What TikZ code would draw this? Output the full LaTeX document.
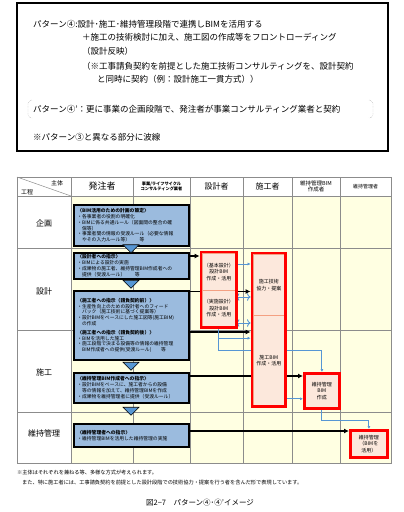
\documentclass[tikz,border=0pt]{standalone}
\usepackage{fontspec}
\setmainfont{Noto Sans CJK JP}
\usetikzlibrary{arrows.meta,shapes.arrows,fit,backgrounds}

\definecolor{cellyellow}{RGB}{255,255,226}
\definecolor{boxblue}{RGB}{155,187,222}
\definecolor{boxpink}{RGB}{252,232,220}
\definecolor{sepsalmon}{RGB}{244,160,130}
\definecolor{linkblue}{RGB}{86,150,212}
\definecolor{gridgray}{RGB}{140,140,140}

\tikzset{
  note/.style={anchor=west,inner sep=0pt,font=\fontsize{8.5}{10}\selectfont},
  head/.style={align=center,inner sep=0pt},
  stage/.style={inner sep=0pt,font=\fontsize{8}{9}\selectfont},
  order/.style={draw=black,line width=1.6pt,fill=boxblue,anchor=north west,
    minimum width=115pt,text width=108pt,align=left,inner xsep=3.5pt,inner ysep=1pt,
    font=\fontsize{4.8}{5.8}\selectfont},
  task/.style={draw=sepsalmon,line width=0.8pt,fill=boxpink,anchor=north west,
    align=center,inner sep=0pt,font=\fontsize{5}{6.5}\selectfont},
  redbox/.style={task,draw=red,line width=2.8pt},
  redframe/.style={draw=red,line width=2.8pt,inner sep=1pt},
  downarrow/.style={single arrow,shape border rotate=270,draw=black,line width=0.6pt,
    fill=linkblue,minimum height=8pt,minimum width=16pt,single arrow head extend=4pt,
    inner sep=0pt},
  instr/.style={line width=1.4pt,-{Latex[length=5pt,width=5pt]}},
  info/.style={linkblue,line width=0.9pt,-{Latex[length=3pt,width=3pt]}}
}

\begin{document}
\begin{tikzpicture}[x=1pt,y=-1pt]
  \useasboundingbox (0,0) rectangle (404,512);

  % pattern text
  \draw[line width=1.3pt] (17,3) rectangle (388,151);
  \node[note] (pat4) at (33,24) {パターン④:設計･施工･維持管理段階で連携しBIMを活用する};
  \node[note] (pat4a) at (82,37) {＋施工の技術検討に加え、施工図の作成等をフロントローディング};
  \node[note] (pat4b) at (82,51) {（設計反映）};
  \node[note] (pat4c) at (82,66) {（※工事請負契約を前提とした施工技術コンサルティングを、設計契約};
  \node[note] (pat4d) at (97,79) {と同時に契約（例：設計施工一貫方式））};
  \node[note] (pat4dash) at (33,109) {パターン④’：更に事業の企画段階で、発注者が事業コンサルティング業者と契約};
  \node[note] (wave) at (33,137) {※パターン③と異なる部分に波線};
  \draw[gridgray,densely dotted,rounded corners=2pt] (32,100) -- (28,101) -- (28,117) -- (32,118);
  \draw[gridgray,densely dotted,rounded corners=2pt] (369,100) -- (373,101) -- (373,117) -- (369,118);

  % table
  \begin{scope}[on background layer]
    \fill[cellyellow] (71,196) rectangle (391,463);
    \draw[gridgray,line width=0.5pt] (17,177) rectangle (391,463);
    \foreach \x in {71,133,190,243,292,340}
      \draw[gridgray,line width=0.5pt] (\x,177) -- (\x,463);
    \foreach \y in {196,248,330,412}
      \draw[gridgray,line width=0.5pt] (17,\y) -- (391,\y);
    \draw[gridgray,line width=0.5pt] (17,177) -- (71,196);
  \end{scope}

  \node[head,font=\fontsize{6}{7}\selectfont] (hSubject) at (57,183) {主体};
  \node[head,font=\fontsize{6}{7}\selectfont] (hStage) at (27,192) {工程};
  \node[head,font=\fontsize{9}{10}\selectfont] (hOwner) at (102,186.5) {発注者};
  \node[head,font=\fontsize{4.2}{5.2}\selectfont\bfseries] (hConsult) at (161.5,186.5) {事業/ライフサイクル\\コンサルティング業者};
  \node[head,font=\fontsize{8}{9}\selectfont] (hDesigner) at (216.5,186.5) {設計者};
  \node[head,font=\fontsize{8}{9}\selectfont] (hBuilder) at (267.5,186.5) {施工者};
  \node[head,font=\fontsize{5.5}{5.5}\selectfont] (hBimMaker) at (316,186.5) {維持管理BIM\\作成者};
  \node[head,font=\fontsize{5}{6}\selectfont] (hManager) at (365.5,186.5) {維持管理者};

  \node[stage] (rPlan) at (44,223) {企画};
  \node[stage] (rDesign) at (44,291) {設計};
  \node[stage] (rBuild) at (44,372) {施工};
  \node[stage] (rMaintain) at (44,433) {維持管理};

  % owner instructions
  \node[order,minimum height=41pt] (plan) at (73,204) {{\bfseries 〈BIM活用のための計画の策定〉}\\
    ・各事業者の役割の明確化\\
    ・BIMに係る共通ルール（図面間の整合の確\\
    　保等）\\
    ・事業者間の情報の受渡ルール（必要な情報\\
    　やその入力ルール等）　　等};
  \node[order,minimum height=26pt] (toDesigner) at (73,252) {{\bfseries 〈設計者への指示〉}\\
    ・BIMによる設計の実施\\
    ・成果物の施工者、維持管理BIM作成者への\\
    　提供（受渡ルール）　　等};
  \node[order,minimum height=69pt] (toBuilder) at (73,290) {{\bfseries 〈施工者への指示（請負契約前）〉}\\
    ・生産性向上のための設計者へのフィード\\
    　バック（施工技術に基づく提案等）\\
    ・設計BIMをベースにした施工図等(施工BIM)\\
    　の作成\\[3pt]
    {\bfseries 〈施工者への指示（請負契約後）〉}\\
    ・BIMを活用した施工\\
    ・施工段階で決まる設備等の情報の維持管理\\
    　BIM作成者への提供(受渡ルール)　　等};
  \node[order,minimum height=30pt] (toBimMaker) at (73,372) {{\bfseries 〈維持管理BIM作成者への指示〉}\\
    ・設計BIMをベースに、施工者からの設備\\
    　等の情報を加えて、維持管理BIMを作成\\
    ・成果物を維持管理者に提供（受渡ルール）};
  \node[order,minimum height=23pt] (toManager) at (73,423) {{\bfseries 〈維持管理者への指示〉}\\
    ・維持管理BIMを活用した維持管理の実施};

  \node[downarrow] (dn1) at (131,248.5) {};
  \node[downarrow] (dn2) at (131,284) {};
  \node[downarrow] (dn3) at (131,366) {};
  \node[downarrow] (dn4) at (131,411) {};

  % designer, builder, maintenance
  \node[task,minimum width=33pt,minimum height=37pt] (kihon) at (202,253) {（基本設計）\\設計BIM\\作成・活用};
  \node[task,minimum width=33pt,minimum height=36pt] (jisshi) at (202,290) {（実施設計）\\設計BIM\\作成・活用};
  \node[redframe,fit=(kihon)(jisshi)] (sekkei) {};
  \node[task,minimum width=31pt,minimum height=61pt] (kyoryoku) at (253,254) {施工技術\\協力・提案};
  \node[task,minimum width=31pt,minimum height=90pt] (sekobim) at (253,315) {施工BIM\\作成・活用};
  \node[redframe,fit=(kyoryoku)(sekobim)] (seko) {};
  \node[redbox,minimum width=35pt,minimum height=35pt] (ijibim) at (303,372) {維持管理\\BIM\\作成};
  \node[redbox,minimum width=37pt,minimum height=27pt] (iji) at (349,429) {維持管理\\（BIMを\\活用）};

  % connectors
  \begin{scope}[on background layer]
    \draw[instr] (toDesigner.north east) ++(0,4) coordinate (a1) -- (a1 -| sekkei.west);
    \draw[instr] (toBuilder.north east) ++(0,1.5) coordinate (a2) -- (a2 -| seko.west);
    \draw[instr] (toBuilder.north east) ++(0,42) coordinate (a3) -- (a3 -| seko.west);
    \draw[instr] (toBimMaker.north east) ++(0,4) coordinate (a4) -- (a4 -| ijibim.west);
    \draw[instr] (toManager.north east) ++(0,8) coordinate (a5) -- (a5 -| iji.west);

    \draw[info] (kihon.north east) ++(0,11) coordinate (b1) -- (b1 -| seko.west);
    \draw[info,<->] (jisshi.north east) ++(0,7) coordinate (b2) -- (b2 -| seko.west);
    \draw[info,<->] (jisshi.north east) ++(0,33) coordinate (b3) -- (b3 -| seko.west);
    \draw[info] (sekkei.south) -- ++(0,21) -| (ijibim.north);
    \draw[info] (sekkei.south) ++(0,9) coordinate (b4) -- (b4 -| seko.west);
    \draw[info] (sekobim.south east) ++(0,-7) coordinate (b5) -- (b5 -| ijibim.west);
    \draw[info] (ijibim.south) -- ++(0,11) -| (iji.north);
  \end{scope}

  % notes
  \node[anchor=west,inner sep=0pt,font=\fontsize{5.2}{6}\selectfont] (foot1) at (17,473) {※主体はそれぞれを兼ねる等、多様な方式が考えられます。};
  \node[anchor=west,inner sep=0pt,font=\fontsize{5.2}{6}\selectfont] (foot2) at (22,483) {また、特に施工者には、工事請負契約を前提とした設計段階での技術協力・提案を行う者を含んだ形で表現しています。};
  \node[inner sep=0pt,font=\fontsize{7.5}{9}\selectfont] (caption) at (200,503) {図2−7　パターン④･④’イメージ};
\end{tikzpicture}
\end{document}
